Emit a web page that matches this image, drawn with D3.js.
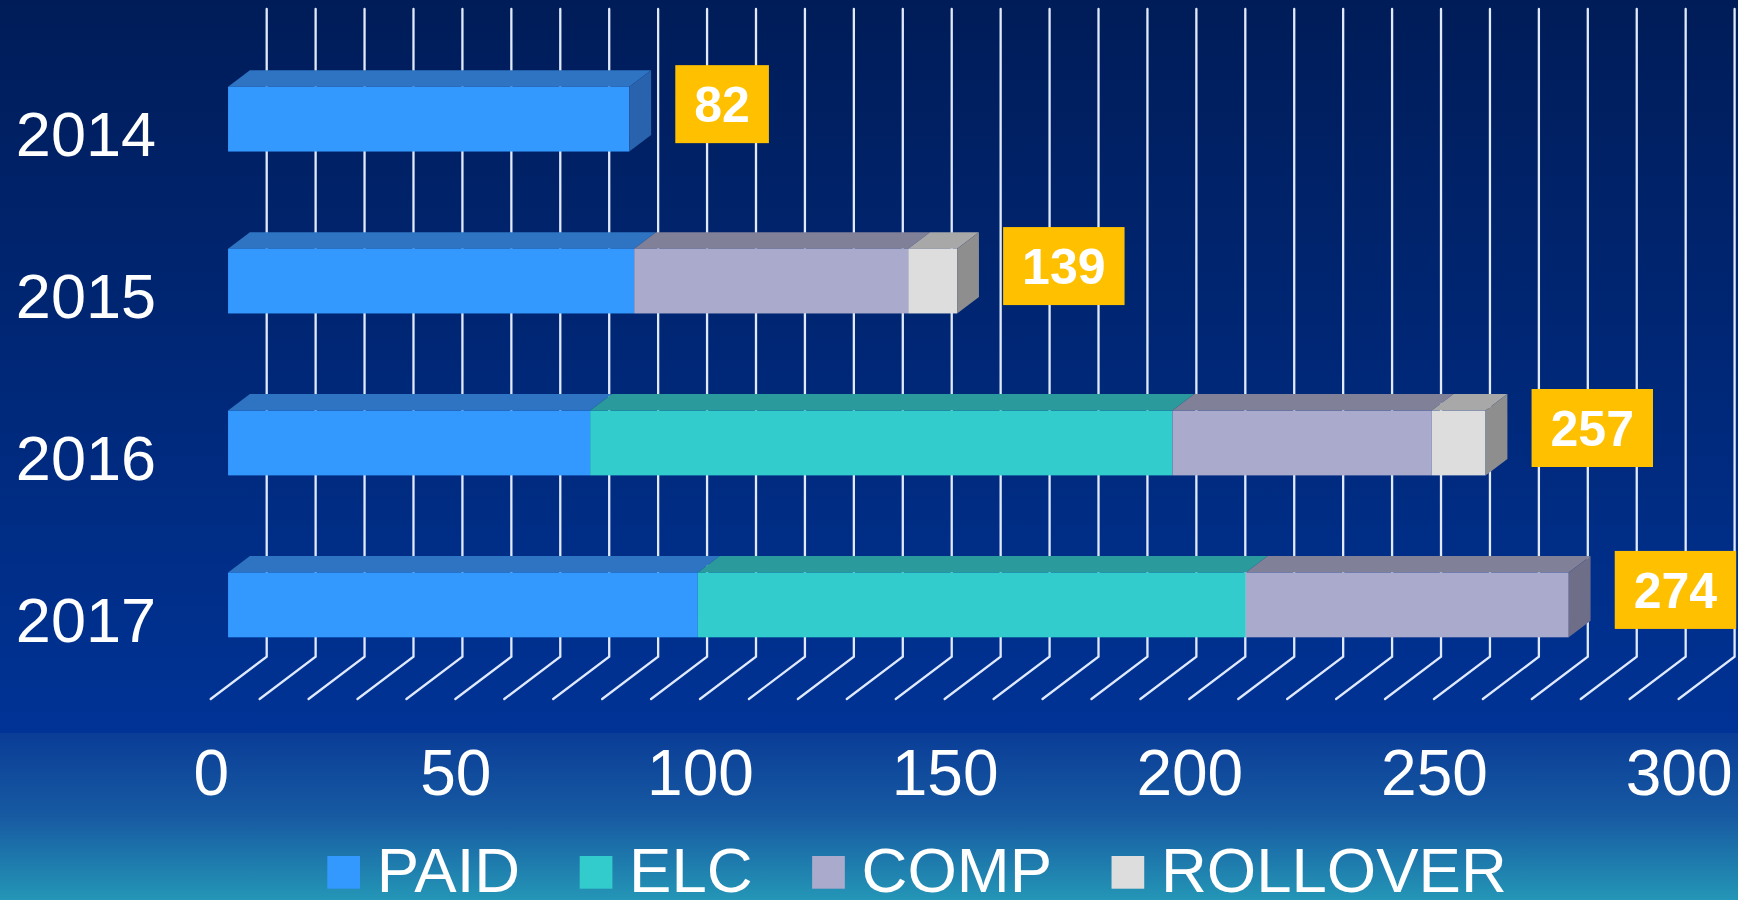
<!DOCTYPE html>
<html>
<head>
<meta charset="utf-8">
<script src="https://d3js.org/d3.v7.min.js"></script>
<style>
  body { margin: 0; background: #001d5a; overflow: hidden; }
  svg { display: block; font-family: "Liberation Sans", Arial, sans-serif; }
</style>
</head>
<body>
<div id="chart"></div>
<script>
// values
const years = ["2014", "2015", "2016", "2017"]
const paid = [82, 83, 74, 96]
const elc = [0, 0, 119, 112]
const comp = [0, 56, 53, 66]
const rollover = [0, 10, 11, 0]
const totals = [82, 139, 257, 274]   // numbers printed in the yellow boxes
const seriesNames = ["PAID", "ELC", "COMP", "ROLLOVER"]
const xTicks = [0, 50, 100, 150, 200, 250, 300]

const width = 1738
const height = 900

// face colours per series: front / top / right side
const frontColor = ["#3399ff", "#33cccc", "#aaaacc", "#dddddd"]
const topColor = ["#2e74c2", "#2a9a9c", "#808099", "#a8a8a8"]
const sideColor = ["#2a63ad", "#268c8e", "#6e6e88", "#8e8e8e"]

const svg = d3.select("#chart")
  .append("svg")
    .attr("width", width)
    .attr("height", height)

// background: dark navy slide with a lighter teal band under the plot
const defs = svg.append("defs")
const g1 = defs.append("linearGradient").attr("id", "bgTop").attr("x1", 0).attr("y1", 0).attr("x2", 0).attr("y2", 1)
g1.append("stop").attr("offset", "0%").attr("stop-color", "#001c58")
g1.append("stop").attr("offset", "100%").attr("stop-color", "#003396")
const g2 = defs.append("linearGradient").attr("id", "bgBottom").attr("x1", 0).attr("y1", 0).attr("x2", 0).attr("y2", 1)
g2.append("stop").attr("offset", "0%").attr("stop-color", "#0a3d97")
g2.append("stop").attr("offset", "50%").attr("stop-color", "#175aa2")
g2.append("stop").attr("offset", "100%").attr("stop-color", "#2496b6")

svg.append("rect").attr("width", width).attr("height", 733).attr("fill", "url(#bgTop)")
svg.append("rect").attr("y", 733).attr("width", width).attr("height", height - 733).attr("fill", "url(#bgBottom)")

// scales (front plane of the 3d box)
const x = d3.scaleLinear().domain([0, 300]).range([210.7, 1678.6])
const y = d3.scaleBand().domain(years).range([51.3, 699])

// 3d depth offset, and where the bars sit inside that depth
const depth = { dx: 56, dy: 42.3 }
const barT0 = 0.31
const barT1 = 0.70
const barH = y.bandwidth() * 0.4
const ddx = depth.dx * (barT1 - barT0)
const ddy = depth.dy * (barT1 - barT0)

// gridlines: back wall verticals plus the floor diagonals
svg.append("g")
  .selectAll("path")
  .data(x.ticks(30))
  .join("path")
    .attr("d", v => {
      const bx = x(v) + depth.dx
      const floorBack = y.range()[1] - depth.dy
      return `M${bx},${y.range()[0] - depth.dy}L${bx},${floorBack}L${x(v)},${y.range()[1]}`
    })
    .attr("fill", "none")
    .attr("stroke", "#e0eafc")
    .attr("stroke-width", 2.3)
    .attr("stroke-linecap", "round")

// stacked data
const rows = years.map((yr, i) => ({
  year: yr, PAID: paid[i], ELC: elc[i], COMP: comp[i], ROLLOVER: rollover[i], i: i
}))
const stacked = d3.stack().keys(seriesNames)(rows)

const faceTop = yr => y(yr) + y.bandwidth() / 2 - depth.dy * barT0 - barH / 2
const off = depth.dx * barT0

const bars = svg.append("g")
stacked.forEach((s, k) => {
  s.forEach(d => {
    if (d[1] === d[0]) return
    const yr = d.data.year
    const fx0 = x(d[0]) + off
    const fx1 = x(d[1]) + off
    const ty = faceTop(yr)
    const by = ty + barH

    // top face
    bars.append("path")
      .attr("d", `M${fx0},${ty}L${fx1},${ty}L${fx1 + ddx},${ty - ddy}L${fx0 + ddx},${ty - ddy}Z`)
      .attr("fill", topColor[k])
    // front face
    bars.append("rect")
      .attr("x", fx0).attr("y", ty)
      .attr("width", fx1 - fx0).attr("height", barH)
      .attr("fill", frontColor[k])

    // right side only on the last segment of the bar
    const total = paid[d.data.i] + elc[d.data.i] + comp[d.data.i] + rollover[d.data.i]
    if (d[1] === total) {
      bars.append("path")
        .attr("d", `M${fx1},${ty}L${fx1 + ddx},${ty - ddy}L${fx1 + ddx},${by - ddy}L${fx1},${by}Z`)
        .attr("fill", sideColor[k])
    }
  })
})

// yellow value boxes, sized to their number
const boxPad = 19
const boxH = 78
const labels = svg.append("g")
rows.forEach((r, i) => {
  const end = r.PAID + r.ELC + r.COMP + r.ROLLOVER
  const bx = x(end) + off + 46
  const cy = faceTop(r.year) + barH / 2 - 15
  const box = labels.append("rect")
    .attr("y", cy - boxH / 2)
    .attr("height", boxH)
    .attr("fill", "#ffc000")
  const t = labels.append("text")
    .attr("y", cy + 18)
    .attr("text-anchor", "middle")
    .attr("font-size", 50).attr("font-weight", "bold")
    .attr("fill", "#ffffff")
    .text(totals[i])
  const bw = t.node().getComputedTextLength() + boxPad * 2
  box.attr("x", bx).attr("width", bw)
  t.attr("x", bx + bw / 2)
})

// category labels
svg.append("g")
  .selectAll("text")
  .data(years)
  .join("text")
    .attr("x", 156)
    .attr("y", d => y(d) + y.bandwidth() / 2 + 24)
    .attr("text-anchor", "end")
    .attr("font-size", 63)
    .attr("fill", "#ffffff")
    .text(d => d)

// value axis labels
const axis = svg.append("g")
  .attr("transform", "translate(0,795)")
  .call(d3.axisBottom(x).tickValues(xTicks).tickSize(0).tickPadding(0))
axis.select(".domain").remove()
axis.selectAll("text")
  .attr("dy", 0)
  .attr("y", 0)
  .attr("font-size", 64)
  .attr("font-family", "Liberation Sans, Arial, sans-serif")
  .attr("fill", "#ffffff")

// legend
const legend = svg.append("g")
const sq = 32.7
let lx = 327.3
seriesNames.forEach((name, k) => {
  legend.append("rect")
    .attr("x", lx).attr("y", 856)
    .attr("width", sq).attr("height", sq)
    .attr("fill", frontColor[k])
  const t = legend.append("text")
    .attr("x", lx + sq + 16.7).attr("y", 892)
    .attr("font-size", 63.5)
    .attr("fill", "#ffffff")
    .text(name)
  lx += sq + 16.7 + t.node().getComputedTextLength() + 59.5
})
</script>
</body>
</html>
